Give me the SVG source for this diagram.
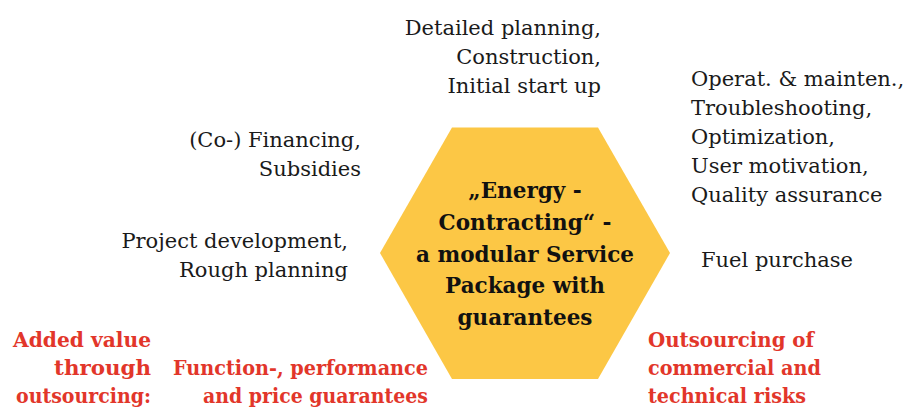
<svg xmlns="http://www.w3.org/2000/svg" width="903" height="407" viewBox="0 0 903 407">
  <style>
    .t { font-family: "DejaVu Serif", "Liberation Serif", serif; font-size: 21px; fill: #1a1a1a; }
    .r { font-family: "DejaVu Serif", "Liberation Serif", serif; font-size: 20px; font-weight: bold; fill: #e2362a; }
    .c { font-family: "DejaVu Serif", "Liberation Serif", serif; font-size: 21.5px; font-weight: bold; fill: #111; text-anchor: middle; }
    .end { text-anchor: end; }
  </style>
  <rect width="903" height="407" fill="#ffffff"/>

  <!-- central hexagon -->
  <g id="hexagon">
    <polygon points="452,127.5 598,127.5 670,253 598,379 452,379 380,253" fill="#fcc745"/>
    <text class="c" x="525" y="198">„Energy -</text>
    <text class="c" x="525" y="230">Contracting“ -</text>
    <text class="c" x="525" y="261.5">a modular Service</text>
    <text class="c" x="525" y="293">Package with</text>
    <text class="c" x="525" y="324.5">guarantees</text>
  </g>

  <g id="module-construction">
    <text class="t end" x="601" y="35">Detailed planning,</text>
    <text class="t end" x="601" y="64">Construction,</text>
    <text class="t end" x="601" y="93">Initial start up</text>
  </g>

  <g id="module-operation">
    <text class="t" x="691" y="86">Operat. &amp; mainten.,</text>
    <text class="t" x="691" y="115">Troubleshooting,</text>
    <text class="t" x="691" y="144">Optimization,</text>
    <text class="t" x="691" y="173">User motivation,</text>
    <text class="t" x="691" y="201.5">Quality assurance</text>
  </g>

  <g id="module-fuel">
    <text class="t" x="701" y="266.5">Fuel purchase</text>
  </g>

  <g id="module-financing">
    <text class="t end" x="361" y="147">(Co-) Financing,</text>
    <text class="t end" x="361" y="176">Subsidies</text>
  </g>

  <g id="module-development">
    <text class="t end" x="348" y="247.5">Project development,</text>
    <text class="t end" x="348" y="276.5">Rough planning</text>
  </g>

  <g id="added-value">
    <text class="r end" x="151" y="347" textLength="138" lengthAdjust="spacingAndGlyphs">Added value</text>
    <text class="r end" x="151" y="375" textLength="97" lengthAdjust="spacingAndGlyphs">through</text>
    <text class="r end" x="151" y="403" textLength="135" lengthAdjust="spacingAndGlyphs">outsourcing:</text>
  </g>

  <g id="guarantees">
    <text class="r end" x="428" y="375" textLength="255" lengthAdjust="spacingAndGlyphs">Function-, performance</text>
    <text class="r end" x="428" y="403" textLength="225" lengthAdjust="spacingAndGlyphs">and price guarantees</text>
  </g>

  <g id="risks">
    <text class="r" x="648" y="347" textLength="166" lengthAdjust="spacingAndGlyphs">Outsourcing of</text>
    <text class="r" x="648" y="375" textLength="173" lengthAdjust="spacingAndGlyphs">commercial and</text>
    <text class="r" x="648" y="403" textLength="158" lengthAdjust="spacingAndGlyphs">technical risks</text>
  </g>

  <g id="connectors"></g>
</svg>
